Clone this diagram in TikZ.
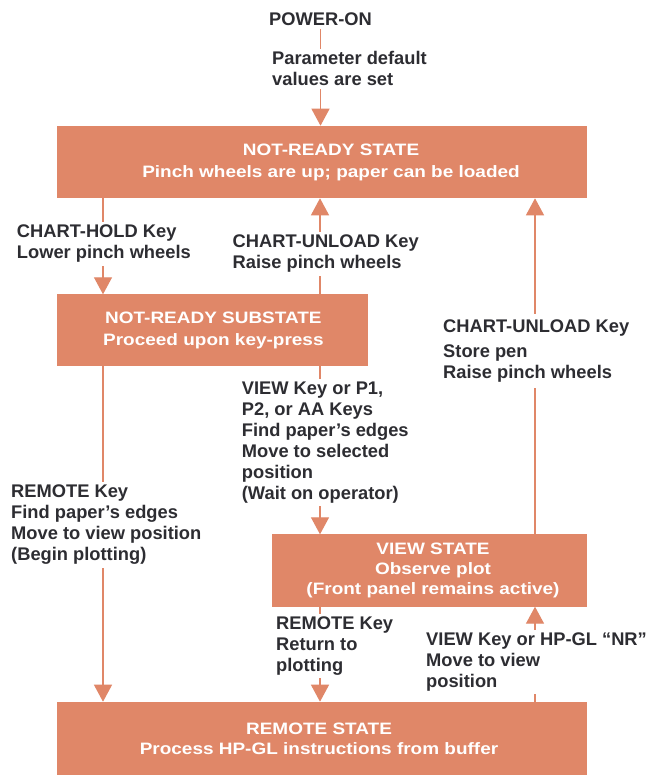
\documentclass[tikz,border=0pt]{standalone}
\usepackage{fontspec}
\setmainfont{Liberation Sans}
\newfontfamily\boxfont[FakeStretch=1.15]{Liberation Sans}
\usetikzlibrary{arrows.meta}
\definecolor{salmon}{RGB}{224,135,104}
\definecolor{ink}{RGB}{45,45,50}
\begin{document}
\begin{tikzpicture}[x=1pt,y=-1pt,
  statebox/.style={fill=salmon, draw=none, inner sep=0pt, outer sep=0pt, anchor=north west},
  statetext/.style={text=white, font=\boxfont\bfseries\fontsize{16.5}{21}\selectfont, align=center, inner sep=0pt, anchor=north},
  lbl/.style={text=ink, font=\bfseries\fontsize{18.3}{21}\selectfont, align=left, fill=white, inner sep=3pt, anchor=north west},
  conn/.style={draw=salmon, line width=1.3pt, -{Triangle[width=18pt,length=17pt]}},
]
\useasboundingbox[fill=white] (0,0) rectangle (652,775);

% state boxes
\node[statebox, minimum width=530.3pt, minimum height=72.6pt] (notready) at (56.7,125.7) {};
\node[statebox, minimum width=311.3pt, minimum height=71.4pt] (substate) at (56.7,294.3) {};
\node[statebox, minimum width=315pt, minimum height=72.4pt] (view) at (272,534.3) {};
\node[statebox, minimum width=530.3pt, minimum height=73.3pt] (remote) at (56.7,701.7) {};

% state texts
\node[statetext] (notreadyT) at (331,143.9) {NOT-READY STATE\\[1pt]Pinch wheels are up; paper can be loaded};
\node[statetext] (substateT) at (213.4,311.5) {NOT-READY SUBSTATE\\[1.4pt]Proceed upon key-press};
\node[statetext] (viewT) at (433,543.2) {VIEW STATE\\[-1pt]Observe plot\\[-1pt](Front panel remains active)};
\node[statetext] (remoteT) at (319,723.2) {REMOTE STATE\\[-1pt]Process HP-GL instructions from buffer};

% start
\node[lbl, anchor=north, fill=none] (poweron) at (320.5,9.5) {POWER-ON};

% column positions
\coordinate (xL) at (103,0);
\coordinate (xM) at (320,0);
\coordinate (xR) at (535,0);

% connectors
\draw[conn] (poweron.south) -- (poweron.south |- notready.north);
\draw[conn] (notready.south -| xL) -- (substate.north -| xL);
\draw[conn] (substate.north -| xM) -- (notready.south -| xM);
\draw[conn] (view.north -| xR) -- (notready.south -| xR);
\draw[conn] (substate.south -| xM) -- (view.north -| xM);
\draw[conn] (substate.south -| xL) -- (remote.north -| xL);
\draw[conn] (view.south -| xM) -- (remote.north -| xM);
\draw[conn] (remote.north -| xR) -- (view.south -| xR);

% labels
\node[lbl] (param) at (269,48.5) {Parameter default\\values are set};
\node[lbl] (charthold) at (13.7,222) {CHART-HOLD Key\\Lower pinch wheels};
\node[lbl] (unloadM) at (229.5,231.8) {CHART-UNLOAD Key\\Raise pinch wheels};
\node[lbl, inner ysep=6pt] (unloadR) at (440,313.5) {CHART-UNLOAD Key\\[4pt]Store pen\\Raise pinch wheels};
\node[lbl] (viewkey) at (238.7,378.5) {VIEW Key or P1,\\P2, or AA Keys\\Find paper’s edges\\Move to selected\\position\\(Wait on operator)};
\node[lbl] (remotekey) at (8,482) {REMOTE Key\\Find paper’s edges\\Move to view position\\(Begin plotting)};
\node[lbl] (returnkey) at (273,613.5) {REMOTE Key\\Return to\\plotting};
\node[lbl] (viewnr) at (423,629.5) {VIEW Key or HP-GL “NR”\\Move to view\\position};
\end{tikzpicture}
\end{document}
